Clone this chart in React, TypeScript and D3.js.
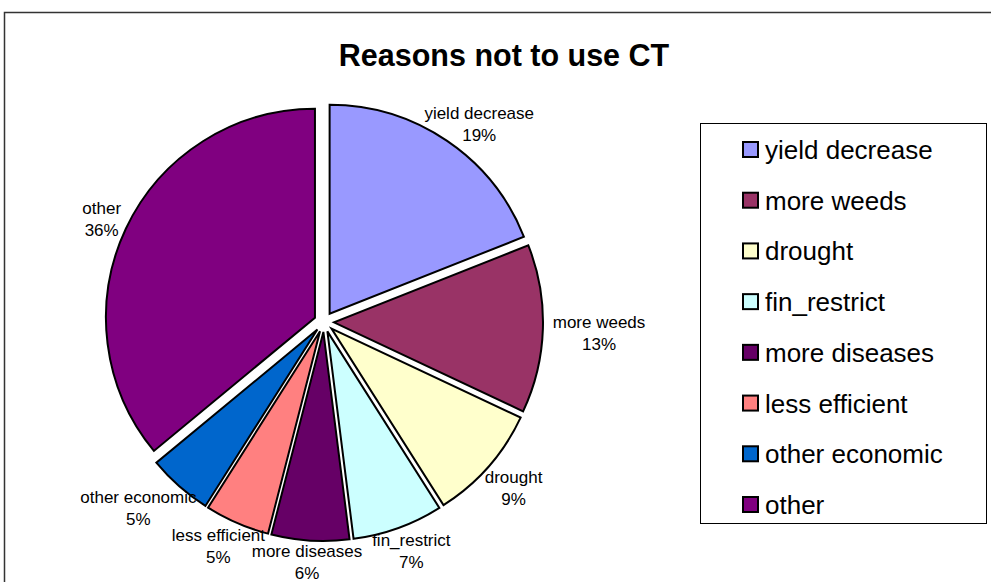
import * as d3 from "d3";

const categories = [
  "yield decrease",
  "more weeds",
  "drought",
  "fin_restrict",
  "more diseases",
  "less efficient",
  "other economic",
  "other",
];
const values = [19, 13, 9, 7, 6, 5, 5, 36];
const colors = [
  "#9999FF",
  "#993366",
  "#FFFFCC",
  "#CCFFFF",
  "#660066",
  "#FF8080",
  "#0066CC",
  "#800080",
];

const FONT = "'Liberation Sans', Arial, Helvetica, sans-serif";

// rough text width with a canvas
const measure = (text: string, size: number) => {
  const ctx = document.createElement("canvas").getContext("2d");
  if (!ctx) return text.length * size * 0.55;
  ctx.font = `${size}px ${FONT}`;
  return ctx.measureText(text).width;
};

const App = () => {
  const width = 991;
  const height = 582;

  // pie geometry
  const cx = 324;
  const cy = 322;
  const radius = 209;
  const explode = 10;
  const labelSize = 17;
  const lineH = 22;
  const gapX = 10;
  const gapY = -4;
  const shiftY = 5;

  const total = d3.sum(values);
  const fmt = d3.format(".0%");

  const pie = d3
    .pie<number>()
    .sort(null)
    .value((d) => d);
  const arcs = pie(values);
  const arc = d3.arc<d3.PieArcDatum<number>>().innerRadius(0).outerRadius(radius);

  // legend
  const legend = { x: 700, y: 123, w: 286, h: 400 };
  const legendRow = d3
    .scalePoint<string>()
    .domain(categories)
    .range([legend.y + 27, legend.y + 382]);

  return (
    <svg
      width={width}
      height={height}
      style={{ position: "absolute", left: 0, top: 0, background: "#fff" }}
      fontFamily={FONT}
    >
      <rect x={4.5} y={12.5} width={1000} height={600} fill="#fff" stroke="#333" strokeWidth={1.5} />

      <text x={504} y={66} textAnchor="middle" fontSize={30.5} fontWeight="bold" fill="#000">
        Reasons not to use CT
      </text>

      <g transform={`translate(${cx},${cy})`}>
        {arcs.map((a, i) => {
          const mid = (a.startAngle + a.endAngle) / 2;
          const dx = Math.sin(mid);
          const dy = -Math.cos(mid);
          return (
            <path
              key={categories[i]}
              d={arc(a) || ""}
              transform={`translate(${dx * explode},${dy * explode})`}
              fill={colors[i]}
              stroke="#000"
              strokeWidth={2}
              strokeLinejoin="miter"
            />
          );
        })}

        {arcs.map((a, i) => {
          const mid = (a.startAngle + a.endAngle) / 2;
          const dx = Math.sin(mid);
          const dy = -Math.cos(mid);
          const pct = fmt(values[i] / total);
          const w = Math.max(measure(categories[i], labelSize), measure(pct, labelSize));
          const h = lineH * 2;
          const rr = radius + explode + gapX * Math.abs(dx) + gapY * Math.abs(dy);
          const bx = dx * rr + (dx * w) / 2;
          const by = dy * rr + (dy * h) / 2 + shiftY;
          return (
            <text
              key={categories[i] + "-label"}
              x={bx}
              y={by - h / 2}
              textAnchor="middle"
              fontSize={labelSize}
              fill="#000"
            >
              <tspan x={bx} dy={15}>
                {categories[i]}
              </tspan>
              <tspan x={bx} dy={lineH}>
                {pct}
              </tspan>
            </text>
          );
        })}
      </g>

      <rect
        x={legend.x + 0.5}
        y={legend.y + 0.5}
        width={legend.w}
        height={legend.h}
        fill="#fff"
        stroke="#000"
        strokeWidth={1}
      />
      {categories.map((c, i) => {
        const y = legendRow(c) ?? 0;
        return (
          <g key={c + "-legend"}>
            <rect x={743} y={y - 8} width={15} height={15} fill={colors[i]} stroke="#000" strokeWidth={2} />
            <text x={765} y={y + 9} fontSize={26} fill="#000">
              {c}
            </text>
          </g>
        );
      })}
    </svg>
  );
};

export default App;
